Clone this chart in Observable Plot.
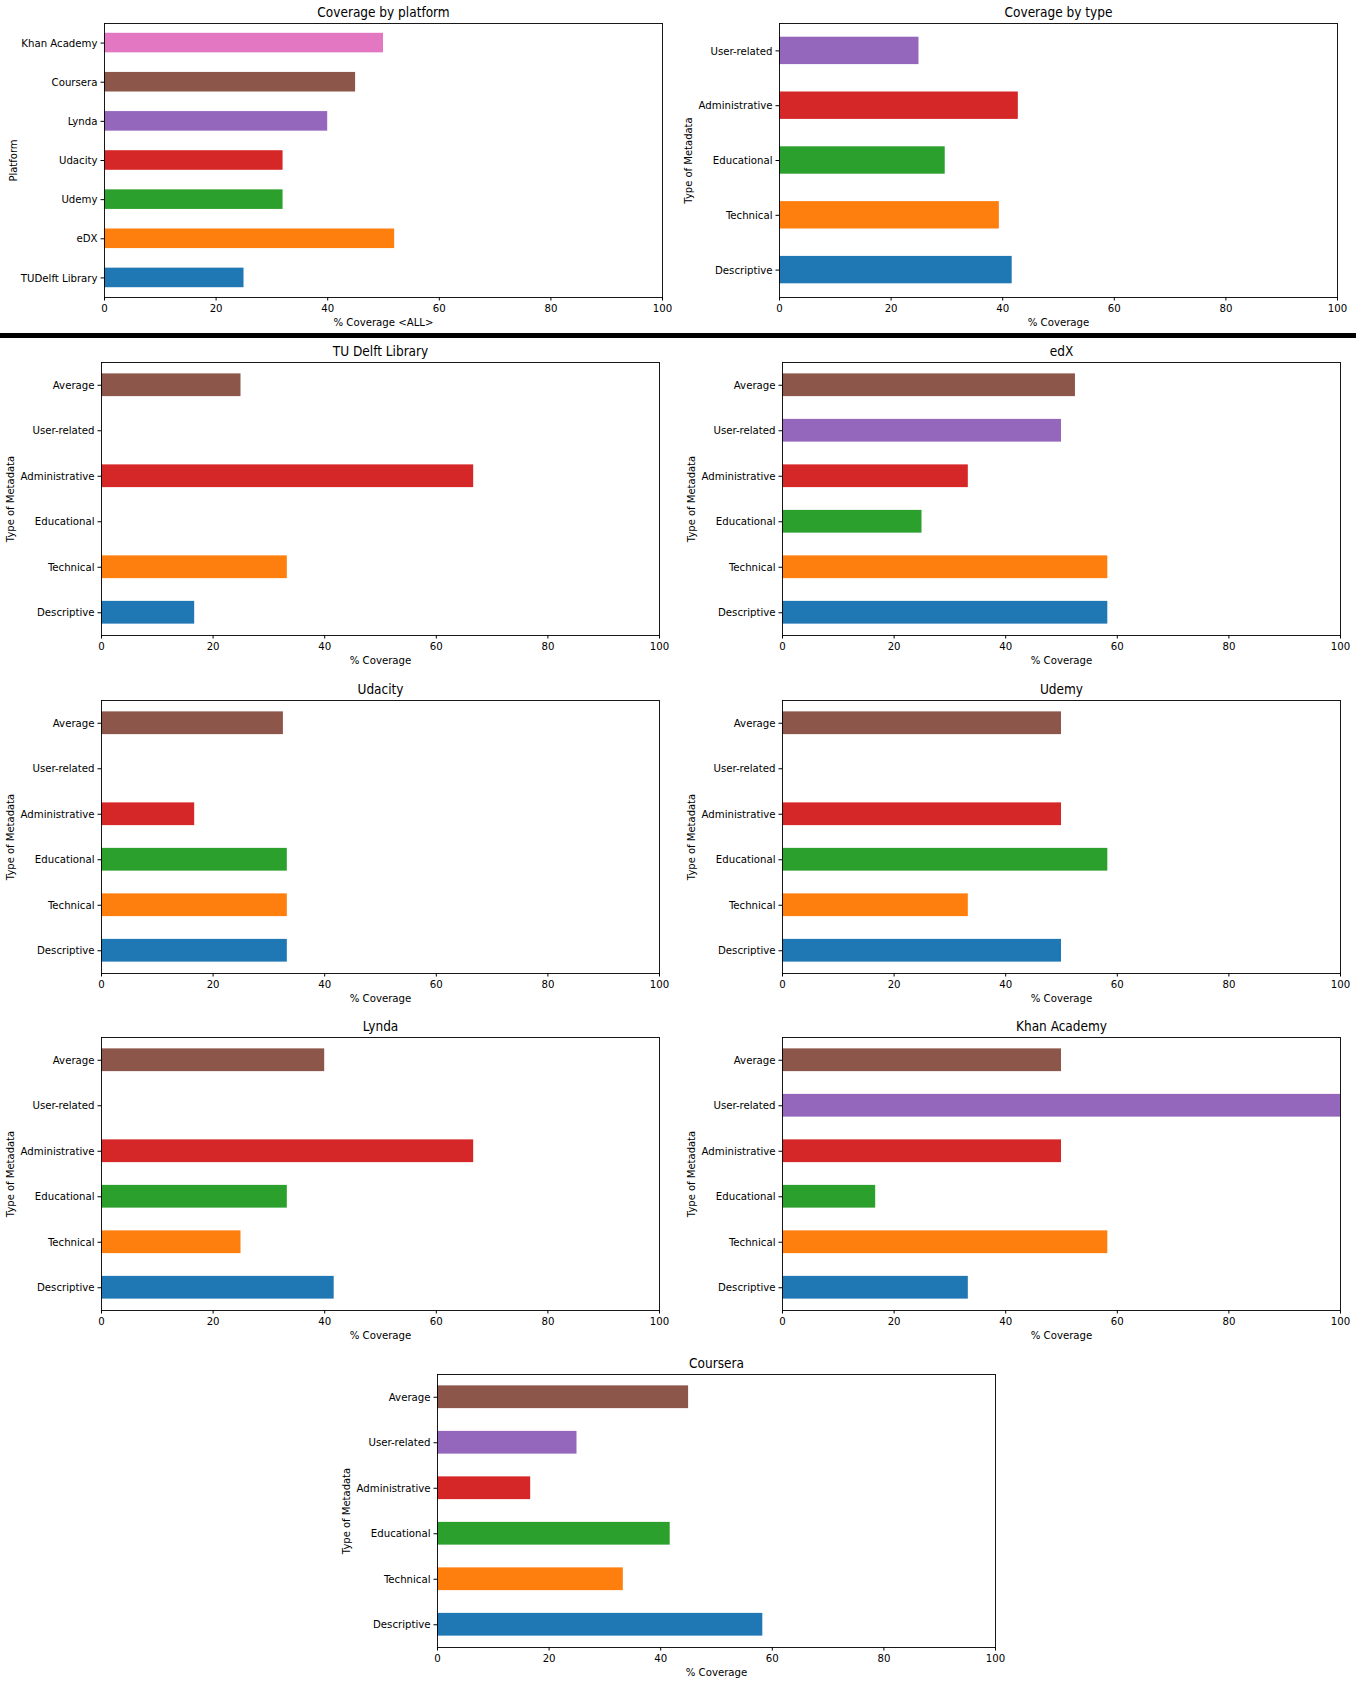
<!DOCTYPE html>
<html>
<head>
<meta charset="utf-8">
<script src="https://cdn.jsdelivr.net/npm/d3@7"></script>
<script src="https://cdn.jsdelivr.net/npm/@observablehq/plot@0.6"></script>
<style>
  html, body { margin: 0; padding: 0; background: #fff; }
  #root { position: relative; width: 1356px; height: 1694px; background: #fff; overflow: hidden; }
  #root svg { position: absolute; }
  .sep { position: absolute; left: 0; top: 333px; width: 1356px; height: 5px; background: #000; z-index: 5; }
</style>
</head>
<body>
<div id="root"></div>
<script>
// ---------- data ----------
const platforms = ["TUDelft Library", "eDX", "Udemy", "Udacity", "Lynda", "Coursera", "Khan Academy"];
const platformCoverage = [25, 52, 32, 32, 40, 45, 50];
const platformColors = ["#1f77b4", "#ff7f0e", "#2ca02c", "#d62728", "#9467bd", "#8c564b", "#e377c2"];

const metadataTypes = ["Descriptive", "Technical", "Educational", "Administrative", "User-related"];
const typeCoverage = [41.7, 39.4, 29.7, 42.8, 25];
const typeColors = ["#1f77b4", "#ff7f0e", "#2ca02c", "#d62728", "#9467bd"];

const typesWithAverage = ["Descriptive", "Technical", "Educational", "Administrative", "User-related", "Average"];
const typesWithAverageColors = ["#1f77b4", "#ff7f0e", "#2ca02c", "#d62728", "#9467bd", "#8c564b"];

const tuDelftCoverage = [16.7, 33.3, 0, 66.7, 0, 25];
const edxCoverage = [58.3, 58.3, 25, 33.3, 50, 52.5];
const udacityCoverage = [33.3, 33.3, 33.3, 16.7, 0, 32.6];
const udemyCoverage = [50, 33.3, 58.3, 50, 0, 50];
const lyndaCoverage = [41.7, 25, 33.3, 66.7, 0, 40];
const khanCoverage = [33.3, 58.3, 16.7, 50, 100, 50];
const courseraCoverage = [58.3, 33.3, 41.7, 16.7, 25, 45];

const xTicks = [0, 20, 40, 60, 80, 100];

// ---------- drawing ----------
const FONT = "'DejaVu Sans Condensed', 'Liberation Sans Narrow', 'DejaVu Sans', sans-serif";
const root = document.getElementById("root");

function panel(o) {
  const data = o.cats.map((c, i) => ({cat: c, v: o.vals[i]}));
  const svg = Plot.plot({
    width: o.W, height: o.H,
    marginLeft: o.ml, marginRight: o.mr, marginTop: o.mt, marginBottom: o.mb,
    style: {background: "transparent", fontFamily: FONT, fontSize: "11.3px", color: "#000"},
    x: {domain: [0, 100], ticks: xTicks, tickSize: 3.5, tickPadding: 3, label: null},
    y: {domain: o.cats.slice().reverse(), paddingInner: 0.5, paddingOuter: 0.25, align: 0.5, round: false,
        tickSize: 3.5, tickPadding: 3.5, label: null},
    color: {domain: o.cats, range: o.colors},
    marks: [
      Plot.barX(data, {x: "v", y: "cat", fill: "cat"}),
      Plot.frame({stroke: "#000", strokeWidth: 0.9}),
      Plot.text([o.title], {text: d => d, frameAnchor: "top", lineAnchor: "middle", textAnchor: "middle",
                            dy: -11, fontSize: 13.5}),
      Plot.text([o.xlabel], {text: d => d, frameAnchor: "bottom", lineAnchor: "middle", textAnchor: "middle", dy: 24.5}),
      Plot.text([o.ylabel], {text: d => d, frameAnchor: "left", lineAnchor: "middle", textAnchor: "middle",
                             dx: -91, rotate: -90, fontFamily: "'DejaVu Sans', sans-serif", fontSize: 10})
    ]
  });
  svg.style.left = o.left + "px";
  svg.style.top = o.top + "px";
  root.appendChild(svg);
}

// top row
panel({cats: platforms, vals: platformCoverage, colors: platformColors,
  title: "Coverage by platform", xlabel: "% Coverage <ALL>", ylabel: "Platform",
  left: 0, top: 0, W: 676, H: 330, ml: 104, mr: 14, mt: 23, mb: 33});
panel({cats: metadataTypes, vals: typeCoverage, colors: typeColors,
  title: "Coverage by type", xlabel: "% Coverage", ylabel: "Type of Metadata",
  left: 676, top: 0, W: 680, H: 330, ml: 103, mr: 19, mt: 23, mb: 33});

const platformPanels = [
  {title: "TU Delft Library", vals: tuDelftCoverage, col: 0, frameTop: 362},
  {title: "edX", vals: edxCoverage, col: 1, frameTop: 362},
  {title: "Udacity", vals: udacityCoverage, col: 0, frameTop: 700},
  {title: "Udemy", vals: udemyCoverage, col: 1, frameTop: 700},
  {title: "Lynda", vals: lyndaCoverage, col: 0, frameTop: 1037},
  {title: "Khan Academy", vals: khanCoverage, col: 1, frameTop: 1037},
  {title: "Coursera", vals: courseraCoverage, col: 2, frameTop: 1374}
];
const colGeom = [
  {left: 0, W: 676, ml: 101, mr: 17},
  {left: 676, W: 680, ml: 106, mr: 16},
  {left: 330, W: 700, ml: 107, mr: 35}
];
for (const p of platformPanels) {
  const g = colGeom[p.col];
  panel({cats: typesWithAverage, vals: p.vals, colors: typesWithAverageColors,
    title: p.title, xlabel: "% Coverage", ylabel: "Type of Metadata",
    left: g.left, top: p.frameTop - 28, W: g.W, H: 28 + 273 + 33, ml: g.ml, mr: g.mr, mt: 28, mb: 33});
}

const sep = document.createElement("div");
sep.className = "sep";
root.appendChild(sep);
</script>
</body>
</html>
